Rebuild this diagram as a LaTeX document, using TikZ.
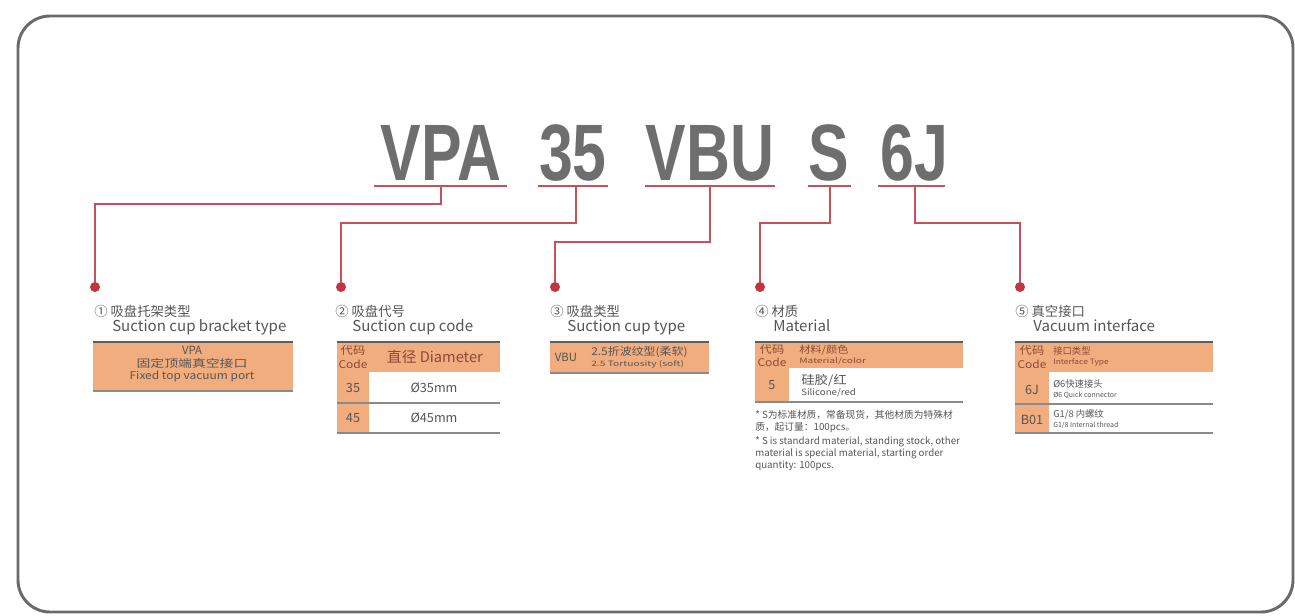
\documentclass[tikz,border=0pt]{standalone}
\usepackage{fontspec}
\usepackage{graphicx}
\setmainfont{Noto Sans CJK SC}
\newfontfamily\codefont{Liberation Sans}
\definecolor{codegray}{HTML}{6E6E6E}
\definecolor{linered}{HTML}{C8505A}
\definecolor{dotred}{HTML}{C0353F}
\definecolor{peach}{HTML}{F2AD7E}
\definecolor{txt}{HTML}{555555}
\definecolor{headtxt}{HTML}{8A4A36}
\definecolor{rulegray}{HTML}{5E5E5E}
\definecolor{sepgray}{HTML}{8A8A8A}
\definecolor{framegray}{HTML}{6A6A6A}
\newcommand{\sx}[2]{\scalebox{#1}[1]{#2}}
\newcommand{\bigcode}[1]{\scalebox{0.76}[1]{\codefont\bfseries\fontsize{60}{60}\selectfont #1}}
\begin{document}
\begin{tikzpicture}[x=0.75pt,y=-0.75pt,
  code/.style={anchor=base,inner sep=0,text=codegray},
  uline/.style={draw=linered,line width=2pt},
  conn/.style={draw=linered,line width=1.3pt},
  dot/.style={circle,fill=dotred,inner sep=0,minimum size=7.5pt},
  hcn/.style={anchor=base west,inner sep=0,text=txt,font=\fontsize{10}{12}\selectfont},
  hen/.style={anchor=base west,inner sep=0,text=txt,font=\fontsize{11.3}{13}\selectfont},
  toprule/.style={draw=rulegray,line width=2pt},
  seprule/.style={draw=sepgray,line width=0.9pt},
  cell/.style={inner sep=0,text=txt},
  hcell/.style={inner sep=0,text=headtxt},
  note/.style={anchor=base west,inner sep=0,text=txt,font=\fontsize{7.3}{8}\selectfont}]
\useasboundingbox (0,0) rectangle (1295,615);
% frame
\draw[framegray,line width=2.2pt,rounded corners=24pt] (18,16) rectangle (1293,612);

% code letters
\node[code] (c1) at (441,180) {\bigcode{VPA}};
\node[code] (c2) at (573,180) {\bigcode{35}};
\node[code] (c3) at (710,180) {\bigcode{VBU}};
\node[code] (c4) at (829,180) {\bigcode{S}};
\node[code] (c5) at (914,180) {\bigcode{6J}};

% underlines
\draw[uline] (374,186) -- (507,186);
\draw[uline] (538,186) -- (608,186);
\draw[uline] (645,186) -- (775,186);
\draw[uline] (808,186) -- (851,186);
\draw[uline] (878,186) -- (945,186);
\coordinate (u1) at (441,186);
\coordinate (u2) at (576,186);
\coordinate (u3) at (710,186);
\coordinate (u4) at (830,186);
\coordinate (u5) at (915,186);

% dots
\node[dot] (d1) at (95,287) {};
\node[dot] (d2) at (341,287) {};
\node[dot] (d3) at (555,287) {};
\node[dot] (d4) at (760,287) {};
\node[dot] (d5) at (1020,287) {};

% connectors
\draw[conn] (u1) -- ++(0,18) -| (d1);
\draw[conn] (u2) -- ++(0,37) -| (d2);
\draw[conn] (u3) -- ++(0,56) -| (d3);
\draw[conn] (u4) -- ++(0,37) -| (d4);
\draw[conn] (u5) -- ++(0,37) -| (d5);

% headings
\node[hcn] (h1a) at (94,316) {① 吸盘托架类型};
\node[hen] (h1b) at (112,331) {Suction cup bracket type};
\node[hcn] (h2a) at (335,316) {② 吸盘代号};
\node[hen] (h2b) at (352,331) {Suction cup code};
\node[hcn] (h3a) at (550,316) {③ 吸盘类型};
\node[hen] (h3b) at (567,331) {Suction cup type};
\node[hcn] (h4a) at (755,316) {④ 材质};
\node[hen] (h4b) at (773,331) {Material};
\node[hcn] (h5a) at (1015,316) {⑤ 真空接口};
\node[hen] (h5b) at (1033,331) {Vacuum interface};

% ---- table 1
\fill[peach] (93,342) rectangle (293,391);
\draw[toprule] (93,342) -- (293,342);
\draw[seprule] (93,391) -- (293,391);
\node[cell,font=\fontsize{8.5}{9}\selectfont] (t1a) at (192,350) {VPA};
\node[cell,font=\fontsize{8}{8}\selectfont] (t1b) at (192,363) {\sx{1.3}{固定顶端真空接口}};
\node[cell,font=\fontsize{8}{8}\selectfont] (t1c) at (192,376) {\sx{1.12}{Fixed top vacuum port}};

% ---- table 2
\fill[peach] (337,342) rectangle (500,372);
\fill[peach] (337,372) rectangle (369,433);
\draw[toprule] (337,342) -- (500,342);
\draw[seprule] (337,403) -- (500,403);
\draw[seprule] (337,433) -- (500,433);
\node[hcell,font=\fontsize{8}{8}\selectfont] (t2h1) at (353,351) {\sx{1.15}{代码}};
\node[hcell,font=\fontsize{8}{8}\selectfont] (t2h2) at (353,364) {\sx{1.12}{Code}};
\node[hcell,font=\fontsize{11}{11}\selectfont] (t2h3) at (435,357) {直径 Diameter};
\node[cell,font=\fontsize{9.5}{10}\selectfont] (t2r1a) at (353,388) {35};
\node[cell,font=\fontsize{9.5}{10}\selectfont] (t2r1b) at (434,388) {Ø35mm};
\node[cell,font=\fontsize{9.5}{10}\selectfont] (t2r2a) at (353,418) {45};
\node[cell,font=\fontsize{9.5}{10}\selectfont] (t2r2b) at (434,418) {Ø45mm};

% ---- table 3
\fill[peach] (550,342) rectangle (709,373);
\draw[toprule] (550,342) -- (709,342);
\draw[seprule] (550,373) -- (709,373);
\node[cell,font=\fontsize{8.5}{9}\selectfont] (t3a) at (566,357) {VBU};
\node[cell,anchor=west,font=\fontsize{8}{8}\selectfont] (t3b) at (591,352) {\sx{1.12}{2.5折波纹型(柔软)}};
\node[cell,anchor=west,font=\fontsize{5.5}{6}\selectfont] (t3c) at (591,364) {\sx{1.4}{2.5 Tortuosity (soft)}};

% ---- table 4
\fill[peach] (755,342) rectangle (963,368);
\fill[peach] (755,368) rectangle (789,402);
\draw[toprule] (755,342) -- (963,342);
\draw[seprule] (755,402) -- (963,402);
\node[hcell,font=\fontsize{8}{8}\selectfont] (t4h1) at (772,350) {\sx{1.15}{代码}};
\node[hcell,font=\fontsize{8}{8}\selectfont] (t4h2) at (772,362) {\sx{1.12}{Code}};
\node[hcell,anchor=west,font=\fontsize{7.5}{8}\selectfont] (t4h3) at (799,350) {\sx{1.12}{材料/颜色}};
\node[hcell,anchor=west,font=\fontsize{5.5}{6}\selectfont] (t4h4) at (799,361) {\sx{1.4}{Material/color}};
\node[cell,font=\fontsize{9.5}{10}\selectfont] (t4r1) at (772,385) {5};
\node[cell,anchor=west,font=\fontsize{9}{9}\selectfont] (t4r2) at (801,380) {\sx{1.12}{硅胶/红}};
\node[cell,anchor=west,font=\fontsize{6.5}{7}\selectfont] (t4r3) at (801,393) {\sx{1.12}{Silicone/red}};
\node[note] (n1) at (755,418) {* S为标准材质，常备现货，其他材质为特殊材};
\node[note] (n2) at (755,430) {质，起订量：100pcs。};
\node[note] (n3) at (755,444) {* S is standard material, standing stock, other};
\node[note] (n4) at (755,456) {material is special material, starting order};
\node[note] (n5) at (755,468) {quantity: 100pcs.};

% ---- table 5
\fill[peach] (1015,342) rectangle (1213,372);
\fill[peach] (1015,372) rectangle (1049,433);
\draw[toprule] (1015,342) -- (1213,342);
\draw[seprule] (1015,404) -- (1213,404);
\draw[seprule] (1015,433) -- (1213,433);
\node[hcell,font=\fontsize{8}{8}\selectfont] (t5h1) at (1032,351) {\sx{1.15}{代码}};
\node[hcell,font=\fontsize{8}{8}\selectfont] (t5h2) at (1032,364) {\sx{1.12}{Code}};
\node[hcell,anchor=west,font=\fontsize{7}{7}\selectfont] (t5h3) at (1053,351) {接口类型};
\node[hcell,anchor=west,font=\fontsize{5.5}{6}\selectfont] (t5h4) at (1053,362) {\sx{1.15}{Interface Type}};
\node[cell,font=\fontsize{9.5}{10}\selectfont] (t5r1a) at (1032,390) {6J};
\node[cell,anchor=west,font=\fontsize{7}{7}\selectfont] (t5r1b) at (1053,384) {Ø6快速接头};
\node[cell,anchor=west,font=\fontsize{5.2}{6}\selectfont] (t5r1c) at (1053,395) {Ø6 Quick connector};
\node[cell,font=\fontsize{9.5}{10}\selectfont] (t5r2a) at (1032,420) {B01};
\node[cell,anchor=west,font=\fontsize{7}{7}\selectfont] (t5r2b) at (1053,414) {G1/8 内螺纹};
\node[cell,anchor=west,font=\fontsize{5.2}{6}\selectfont] (t5r2c) at (1053,425) {G1/8 Internal thread};
\end{tikzpicture}
\end{document}
